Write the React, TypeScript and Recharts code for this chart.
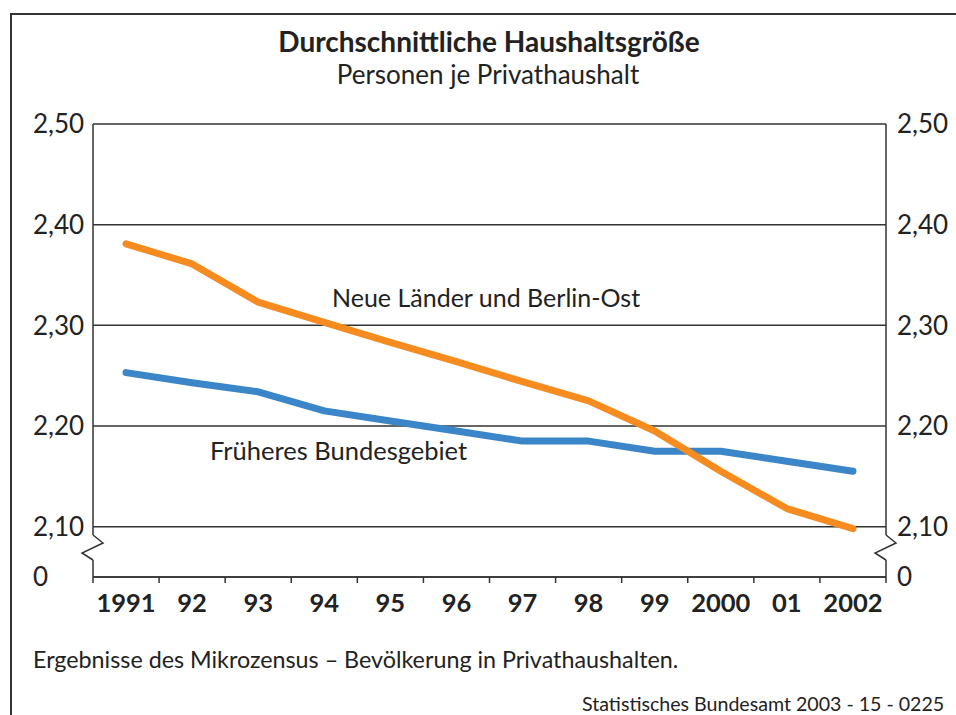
import { CartesianGrid, Line, LineChart, XAxis, YAxis } from "recharts";

const years = ["1991", "92", "93", "94", "95", "96", "97", "98", "99", "2000", "01", "2002"];
const neueLaender = [2.381, 2.361, 2.323, 2.303, 2.283, 2.264, 2.244, 2.225, 2.195, 2.155, 2.118, 2.098];
const frueheresBundesgebiet = [2.253, 2.243, 2.234, 2.215, 2.205, 2.195, 2.185, 2.185, 2.175, 2.175, 2.165, 2.155];
const yTicks = [2.05, 2.1, 2.2, 2.3, 2.4, 2.5];
const yDomain: [number, number] = [2.05, 2.5];

const FONT = "Lato, 'Open Sans', sans-serif";
const INK = "#222";
const GRID = "#333";

const data = years.map((label, i) => ({
  idx: i,
  label,
  ost: neueLaender[i],
  west: frueheresBundesgebiet[i],
}));

// labels at the category centres, tick marks on the boundaries between them
const xTicks = [...years.flatMap((_, i) => [i - 0.5, i]), years.length - 0.5];

function XTick({ x, y, payload }: any) {
  const v = payload.value as number;
  if (!Number.isInteger(v)) {
    return <line x1={x} x2={x} y1={y} y2={y + 6} stroke={GRID} strokeWidth={1.5} />;
  }
  return (
    <text x={x} y={y + 35} textAnchor="middle" fontFamily={FONT} fontWeight={700} fontSize={25.5} fill={INK}>
      {years[v]}
    </text>
  );
}

// the lowest tick stands for 0; it also draws the axis break above it
function makeYTick(side: "left" | "right") {
  return function YTick({ x, y, payload }: any) {
    const v = payload.value as number;
    const isZero = v < 2.08;
    const axisX = side === "left" ? x + 60 : x - 11;
    return (
      <g>
        {isZero && (
          <g>
            <rect x={axisX - 2} y={y - 42} width={4} height={25} fill="#fff" />
            <polyline
              points={`${axisX},${y - 42} ${axisX + 10},${y - 34} ${axisX - 11},${y - 24} ${axisX},${y - 17}`}
              fill="none"
              stroke={GRID}
              strokeWidth={1.5}
            />
          </g>
        )}
        <text x={x} y={y} dy="0.36em" textAnchor="start" fontFamily={FONT} fontSize={26} fill={INK}>
          {isZero ? "0" : v.toFixed(2).replace(".", ",")}
        </text>
      </g>
    );
  };
}

export default function App() {
  return (
    <div
      style={{
        position: "absolute",
        left: 0,
        top: 0,
        width: 956,
        height: 715,
        overflow: "hidden",
        background: "#fff",
        fontFamily: FONT,
        color: INK,
      }}
    >
      <div
        style={{
          position: "absolute",
          left: 10,
          top: 13,
          width: 1000,
          height: 800,
          border: "2px solid #333",
        }}
      />
      <div style={{ position: "absolute", left: 0, width: 978, top: 24, textAlign: "center", fontSize: 28, fontWeight: 700 }}>
        Durchschnittliche Haushaltsgröße
      </div>
      <div style={{ position: "absolute", left: 0, width: 976, top: 58, textAlign: "center", fontSize: 26 }}>
        Personen je Privathaushalt
      </div>

      <LineChart
        width={956}
        height={715}
        data={data}
        margin={{ top: 124, right: 10, bottom: 98, left: 33 }}
      >
        <CartesianGrid yAxisId="left" stroke={GRID} strokeWidth={1.5} vertical={false} />
        <XAxis
          dataKey="idx"
          type="number"
          domain={[-0.5, years.length - 0.5]}
          ticks={xTicks}
          interval={0}
          height={40}
          tickLine={false}
          tickSize={0}
          tickMargin={0}
          axisLine={{ stroke: GRID, strokeWidth: 1.5 }}
          tick={<XTick />}
        />
        <YAxis
          yAxisId="left"
          domain={yDomain}
          ticks={yTicks}
          interval={0}
          width={60}
          tickLine={false}
          tickSize={0}
          tickMargin={60}
          axisLine={{ stroke: GRID, strokeWidth: 1.5 }}
          tick={makeYTick("left")}
        />
        <YAxis
          yAxisId="right"
          orientation="right"
          domain={yDomain}
          ticks={yTicks}
          interval={0}
          width={60}
          tickLine={false}
          tickSize={0}
          tickMargin={11}
          axisLine={{ stroke: GRID, strokeWidth: 1.5 }}
          tick={makeYTick("right")}
        />
        <Line
          yAxisId="left"
          dataKey="west"
          stroke="#3b86c8"
          strokeWidth={7}
          strokeLinecap="round"
          strokeLinejoin="round"
          dot={false}
          activeDot={false}
          isAnimationActive={false}
        />
        <Line
          yAxisId="right"
          dataKey="ost"
          stroke="#f68b1f"
          strokeWidth={7}
          strokeLinecap="round"
          strokeLinejoin="round"
          dot={false}
          activeDot={false}
          isAnimationActive={false}
        />
      </LineChart>

      <div style={{ position: "absolute", left: 332, top: 282, fontSize: 25 }}>Neue Länder und Berlin-Ost</div>
      <div style={{ position: "absolute", left: 210, top: 435, fontSize: 25.5 }}>Früheres Bundesgebiet</div>
      <div style={{ position: "absolute", left: 33, top: 645, fontSize: 23.3 }}>
        Ergebnisse des Mikrozensus – Bevölkerung in Privathaushalten.
      </div>
      <div style={{ position: "absolute", left: 582, top: 692, fontSize: 19.6, whiteSpace: "nowrap" }}>
        Statistisches Bundesamt 2003 - 15 - 0225
      </div>
    </div>
  );
}
